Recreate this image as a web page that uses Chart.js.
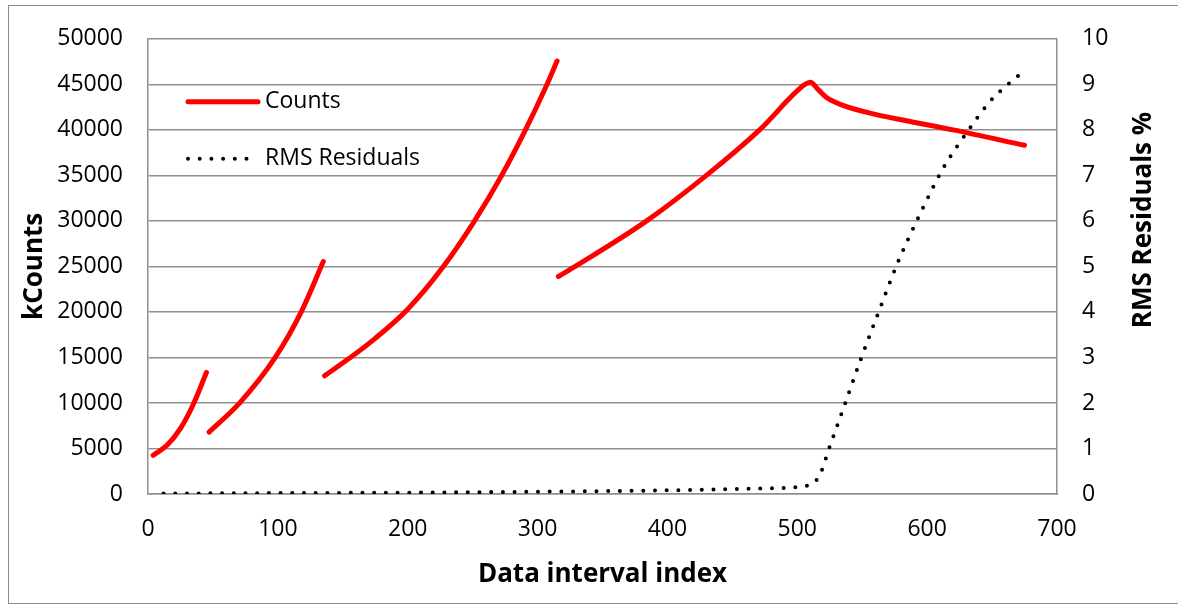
<!DOCTYPE html>
<html>
<head>
<meta charset="utf-8">
<script src="https://cdn.jsdelivr.net/npm/chart.js@4.4.1/dist/chart.umd.min.js"></script>
<style>
    html, body { margin: 0; padding: 0; background: #fff; }
    #frame { position: absolute; left: 8px; top: 5px; width: 1200px; height: 599px; border: 1.5px solid #8c8c8c; box-sizing: border-box; }
    #wrap { position: absolute; left: 0; top: 0; width: 1178px; height: 605px; }
</style>
</head>
<body>
<div id="frame"></div>
<div id="wrap"><canvas id="myChart"></canvas></div>
<script>
// Counts: four separate runs, null marks a break between them
const countIdx = [4, 15, 25, 35, 45, null,
    47, 71, 98, 118, 135, null,
    136, 155, 175, 200, 227, 251, 272, 290, 306, 315, null,
    316, 329, 384, 430, 471, 506, 510, 516, 522, 533, 560, 584, 620, 675];
const countVal = [4255, 5400, 7200, 9890, 13350, null,
    6800, 10070, 15000, 20000, 25530, null,
    12980, 14900, 17100, 20300, 24900, 29900, 34900, 39800, 44600, 47550, null,
    23890, 25000, 30000, 35000, 40000, 45000, 45240, 44440, 43600, 42800, 41700, 41000, 40000, 38300];

// RMS residuals (%), right axis
const rmsIdx = [12, 100, 200, 300, 400, 470, 505, 513, 518, 524, 536, 548, 564, 577, 592, 612, 632, 648, 661, 675];
const rmsVal = [0.01, 0.02, 0.03, 0.05, 0.08, 0.12, 0.17, 0.25, 0.46, 0.96, 1.92, 2.89, 4.1, 5.06, 6.0, 7.14, 8.0, 8.61, 8.97, 9.3];

const xTitle = 'Data interval index';
const yTitle = 'kCounts';
const y2Title = 'RMS Residuals %';

const fontFamily = "'Open Sans', sans-serif";
const gridColor = '#8f8f8f';

function toPoints(xs, ys) {
    return xs.map((x, i) => ({ x: x === null ? NaN : x, y: ys[i] }));
}

// legend drawn inside the plot area, top left
const insideLegend = {
    id: 'insideLegend',
    afterDatasetsDraw(chart) {
        const ctx = chart.ctx;
        const area = chart.chartArea;
        const x0 = area.left + 40;
        const rows = [area.top + 63, area.top + 120];
        ctx.save();
        ctx.font = '23px ' + fontFamily;
        ctx.textBaseline = 'middle';
        ctx.fillStyle = '#000';
        chart.data.datasets.forEach((ds, i) => {
            const y = rows[i];
            ctx.beginPath();
            ctx.strokeStyle = ds.borderColor;
            ctx.lineWidth = ds.borderWidth;
            ctx.lineCap = 'round';
            ctx.setLineDash(ds.borderDash || []);
            ctx.moveTo(x0, y);
            ctx.lineTo(i === 0 ? x0 + 70 : x0 + 62, y);
            ctx.stroke();
            ctx.setLineDash([]);
            ctx.fillText(ds.label, x0 + 77, y);
        });
        // right axis title reads bottom to top
        ctx.font = 'bold 26px ' + fontFamily;
        ctx.textAlign = 'center';
        ctx.translate(1144, 220);
        ctx.rotate(-Math.PI / 2);
        ctx.fillText(y2Title, 0, 0);
        ctx.restore();
    }
};

let chart = null;

function drawChart() {
    try {
        const ctx = document.getElementById('myChart').getContext('2d');
        if (chart) chart.destroy();
        const tickFont = { family: fontFamily, size: 23 };
        const titleFont = { family: fontFamily, size: 26, weight: 'bold' };
        const plain = (v) => String(v);
        chart = new Chart(ctx, {
            type: 'line',
            data: {
                datasets: [{
                    label: 'Counts',
                    data: toPoints(countIdx, countVal),
                    borderColor: '#ff0000',
                    borderWidth: 5,
                    borderCapStyle: 'round',
                    borderJoinStyle: 'round',
                    cubicInterpolationMode: 'monotone',
                    pointRadius: 0,
                    spanGaps: false,
                    fill: false,
                    yAxisID: 'y'
                }, {
                    label: 'RMS Residuals',
                    data: toPoints(rmsIdx, rmsVal),
                    borderColor: '#000000',
                    borderWidth: 4,
                    borderDash: [0, 11.7],
                    borderCapStyle: 'round',
                    cubicInterpolationMode: 'monotone',
                    pointRadius: 0,
                    fill: false,
                    yAxisID: 'y2'
                }]
            },
            options: {
                responsive: true,
                maintainAspectRatio: false,
                animation: false,
                events: [],
                layout: { padding: { top: 36, right: 0, bottom: 0, left: 0 } },
                plugins: {
                    legend: { display: false },
                    tooltip: { enabled: false }
                },
                scales: {
                    x: {
                        type: 'linear',
                        min: 0,
                        max: 700,
                        ticks: { stepSize: 100, padding: 22, color: '#000', font: tickFont, callback: plain },
                        grid: { display: false, drawTicks: false },
                        border: { display: true, color: gridColor, width: 1.5 },
                        title: { display: true, text: xTitle, color: '#000', padding: { top: 0, bottom: 15 }, font: titleFont },
                        afterFit: (scale) => { scale.height = 111; }
                    },
                    y: {
                        position: 'left',
                        min: 0,
                        max: 50000,
                        ticks: { stepSize: 5000, padding: 25, color: '#000', font: tickFont, callback: plain },
                        grid: { color: gridColor, lineWidth: 1.5, drawTicks: false },
                        border: { display: true, color: gridColor, width: 1.5 },
                        title: { display: true, text: yTitle, color: '#000', padding: { top: 19, bottom: 0 }, font: titleFont },
                        afterFit: (scale) => { scale.width = 148; }
                    },
                    y2: {
                        position: 'right',
                        min: 0,
                        max: 10,
                        ticks: { stepSize: 1, padding: 25, color: '#000', font: tickFont, callback: plain },
                        grid: { display: false, drawTicks: false },
                        border: { display: true, color: gridColor, width: 1.5 },
                        afterFit: (scale) => { scale.width = 121; }
                    }
                }
            },
            plugins: [insideLegend]
        });
    } catch (error) {
        console.error('Error in drawChart:', error);
    }
}

window.addEventListener('DOMContentLoaded', drawChart);
</script>
</body>
</html>
